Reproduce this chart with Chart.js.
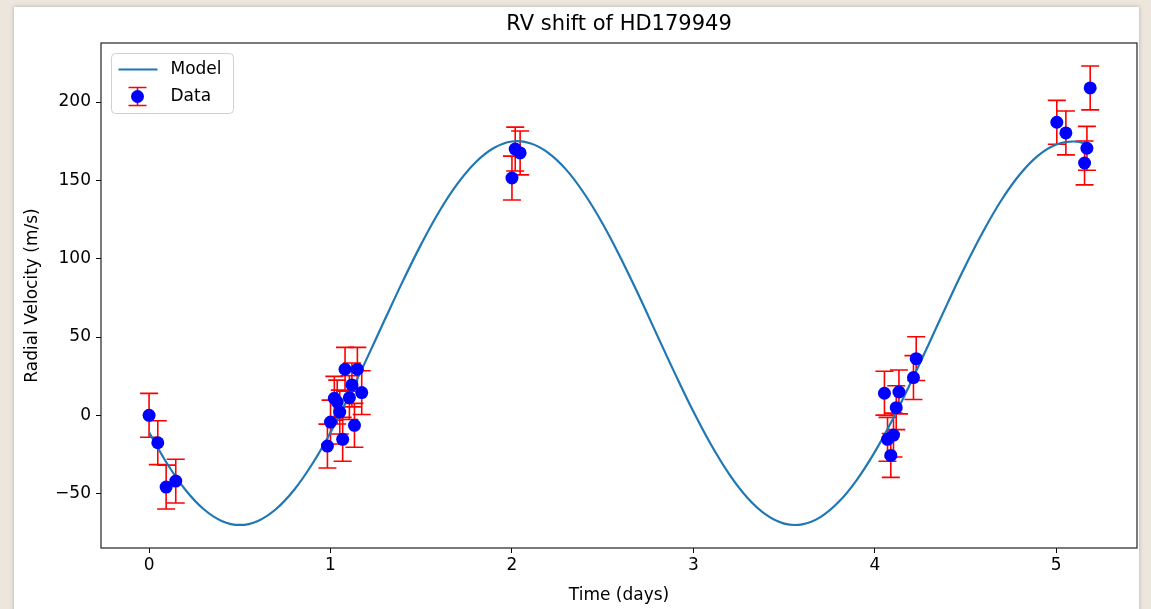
<!DOCTYPE html>
<html lang="en">
<head>
  <meta charset="UTF-8">
  <title>RV shift of HD179949</title>
  <script src="https://cdn.jsdelivr.net/npm/chart.js@4"></script>
  <style>
    body { margin: 0; width: 1151px; height: 609px; overflow: hidden; background: #ece6dc; }
    .panel { position: absolute; left: 14px; top: 7px; width: 1125px; height: 610px; background: #fff; box-shadow: 0 0 4px rgba(0,0,0,0.25); }
    #chart { position: absolute; left: 0; top: 0; }
  </style>
</head>
<body>
  <div class="panel"></div>
  <canvas id="chart" width="1151" height="609"></canvas>
  <script>
    // model curve (time in days, RV in m/s)
    const modelT = [0, 0.1, 0.2, 0.3, 0.4, 0.5, 0.6, 0.7, 0.8, 0.9,
      1.0, 1.1, 1.2, 1.3, 1.4, 1.5, 1.6, 1.7, 1.8, 1.9,
      2.0, 2.1, 2.2, 2.3, 2.4, 2.5, 2.6, 2.7, 2.8, 2.9,
      3.0, 3.1, 3.2, 3.3, 3.4, 3.5, 3.6, 3.7, 3.8, 3.9,
      4.0, 4.1, 4.2, 4.3, 4.4, 4.5, 4.6, 4.7, 4.8, 4.9,
      5.0, 5.1, 5.19];
    const modelV = [-10.9, -30.9, -47.5, -59.8, -67.4, -70.0, -67.4, -59.8, -47.5, -30.9,
      -10.9, 11.8, 36.2, 61.3, 86.0, 109.3, 130.3, 147.9, 161.6, 170.7,
      174.8, 173.7, 167.6, 156.7, 141.3, 122.3, 100.3, 76.3, 51.2, 26.3,
      2.4, -19.3, -38.0, -52.9, -63.4, -69.1, -69.6, -65.0, -55.4, -41.3,
      -23.3, -2.1, 21.4, 46.2, 71.3, 95.6, 118.0, 137.8, 153.9, 165.8,
      172.9, 174.8, 172.4];

    // measurements
    const dataT = [0, 0.048, 0.094, 0.147,
      0.983, 1.0, 1.021, 1.037, 1.051, 1.067, 1.08, 1.104, 1.118, 1.132, 1.148, 1.172,
      2.0, 2.018, 2.045,
      4.053, 4.07, 4.088, 4.103, 4.118, 4.133, 4.213, 4.228,
      5.003, 5.053, 5.156, 5.169, 5.187];
    const dataV = [0, -17.5, -45.8, -42,
      -19.6, -4.3, 10.9, 8.5, 2.1, -15.3, 29.4, 11.3, 19.4, -6.4, 29.4, 14.5,
      151.5, 170, 167.5,
      14.1, -15.3, -25.6, -12.6, 4.9, 14.9, 24.1, 36.2,
      187.1, 180.3, 161.1, 170.5, 209];
    const dataErr = [14, 14, 14, 14,
      14, 14, 14, 14, 14, 14, 14, 14, 14, 14, 14, 14,
      14, 14, 14,
      14, 14, 14, 14, 14, 14, 14, 14,
      14, 14, 14, 14, 14];

    const xTicks = [0, 1, 2, 3, 4, 5];
    const yTicks = [-50, 0, 50, 100, 150, 200];

    const TITLE = 'RV shift of HD179949';
    const FONT = 'DejaVu Sans';
    const LINE_COLOR = '#1f77b4';
    const POINT_COLOR = '#0000ff';
    const ERR_COLOR = '#ff0000';

    // red error bars with caps, drawn under everything else
    const errorBars = {
      id: 'errorBars',
      beforeDatasetsDraw(chart) {
        const { ctx, chartArea, scales: { x, y } } = chart;
        ctx.save();
        ctx.beginPath();
        ctx.rect(chartArea.left, chartArea.top, chartArea.right - chartArea.left, chartArea.bottom - chartArea.top);
        ctx.clip();
        ctx.strokeStyle = ERR_COLOR;
        ctx.lineWidth = 1.6;
        dataT.forEach((t, i) => {
          const px = x.getPixelForValue(t);
          const top = y.getPixelForValue(dataV[i] + dataErr[i]);
          const bot = y.getPixelForValue(dataV[i] - dataErr[i]);
          ctx.beginPath();
          ctx.moveTo(px, top); ctx.lineTo(px, bot);
          ctx.moveTo(px - 9, top); ctx.lineTo(px + 9, top);
          ctx.moveTo(px - 9, bot); ctx.lineTo(px + 9, bot);
          ctx.stroke();
        });
        ctx.restore();
      }
    };

    // axes frame, title centred on the axes, matplotlib style legend box
    const frameAndLegend = {
      id: 'frameAndLegend',
      afterDraw(chart) {
        const { ctx, chartArea } = chart;
        ctx.save();
        ctx.strokeStyle = '#222';
        ctx.lineWidth = 1.2;
        ctx.strokeRect(chartArea.left, chartArea.top, chartArea.right - chartArea.left, chartArea.bottom - chartArea.top);

        ctx.fillStyle = '#000';
        ctx.font = '21px "' + FONT + '"';
        ctx.textAlign = 'center';
        ctx.textBaseline = 'middle';
        ctx.fillText(TITLE, (chartArea.left + chartArea.right) / 2, chartArea.top - 18);

        const bx = chartArea.left + 10.5, by = chartArea.top + 10.5, bw = 122, bh = 60;
        ctx.beginPath();
        ctx.roundRect(bx, by, bw, bh, 4);
        ctx.fillStyle = 'rgba(255,255,255,0.8)';
        ctx.fill();
        ctx.strokeStyle = '#d0d0d0';
        ctx.lineWidth = 1;
        ctx.stroke();

        const labels = chart.data.datasets.map(d => d.label);
        // Model entry
        ctx.strokeStyle = LINE_COLOR;
        ctx.lineWidth = 2.2;
        ctx.beginPath();
        ctx.moveTo(bx + 7, by + 16); ctx.lineTo(bx + 46, by + 16);
        ctx.stroke();
        // Data entry
        const cx = bx + 26, cy = by + 43;
        ctx.strokeStyle = ERR_COLOR;
        ctx.lineWidth = 1.6;
        ctx.beginPath();
        ctx.moveTo(cx, cy - 9); ctx.lineTo(cx, cy + 9);
        ctx.moveTo(cx - 9, cy - 9); ctx.lineTo(cx + 9, cy - 9);
        ctx.moveTo(cx - 9, cy + 9); ctx.lineTo(cx + 9, cy + 9);
        ctx.stroke();
        ctx.fillStyle = POINT_COLOR;
        ctx.beginPath();
        ctx.arc(cx, cy, 6.5, 0, Math.PI * 2);
        ctx.fill();

        ctx.fillStyle = '#000';
        ctx.font = '17px "' + FONT + '"';
        ctx.textAlign = 'left';
        ctx.fillText(labels[0], bx + 59, by + 16);
        ctx.fillText(labels[1], bx + 59, by + 43);
        ctx.restore();
      }
    };

    new Chart(document.getElementById('chart'), {
      data: {
        datasets: [{
          type: 'line',
          label: 'Model',
          data: modelT.map((t, i) => ({ x: t, y: modelV[i] })),
          borderColor: LINE_COLOR,
          borderWidth: 2.2,
          pointRadius: 0,
          tension: 0.4,
          fill: false,
          order: 1
        }, {
          type: 'scatter',
          label: 'Data',
          data: dataT.map((t, i) => ({ x: t, y: dataV[i] })),
          backgroundColor: POINT_COLOR,
          borderWidth: 0,
          pointRadius: 6.5,
          order: 0
        }]
      },
      options: {
        responsive: false,
        animation: false,
        devicePixelRatio: 1,
        layout: { padding: { left: 14, right: 14, top: 43, bottom: 0 } },
        plugins: {
          legend: { display: false },
          tooltip: { enabled: false },
          title: { display: false }
        },
        scales: {
          x: {
            type: 'linear',
            min: -0.265,
            max: 5.445,
            afterFit: s => { s.height = 61; },
            afterBuildTicks: s => { s.ticks = xTicks.map(v => ({ value: v })); },
            grid: { drawOnChartArea: false, tickLength: 5, color: '#000' },
            border: { display: false },
            ticks: { color: '#000', padding: 2, font: { family: FONT, size: 17 } },
            title: {
              display: true, text: 'Time (days)', color: '#000',
              font: { family: FONT, size: 17 }, padding: { top: 0, bottom: 3 }
            }
          },
          y: {
            type: 'linear',
            min: -84.7,
            max: 237.7,
            afterFit: s => { s.width = 87; },
            afterBuildTicks: s => { s.ticks = yTicks.map(v => ({ value: v })); },
            grid: { drawOnChartArea: false, tickLength: 5, color: '#000' },
            border: { display: false },
            ticks: {
              color: '#000', padding: 5, font: { family: FONT, size: 17 },
              callback: v => (v < 0 ? '\u2212' + Math.abs(v) : String(v))
            },
            title: {
              display: true, text: 'Radial Velocity (m/s)', color: '#000',
              font: { family: FONT, size: 17 }, padding: { top: 8, bottom: 0 }
            }
          }
        }
      },
      plugins: [errorBars, frameAndLegend]
    });
  </script>
</body>
</html>
